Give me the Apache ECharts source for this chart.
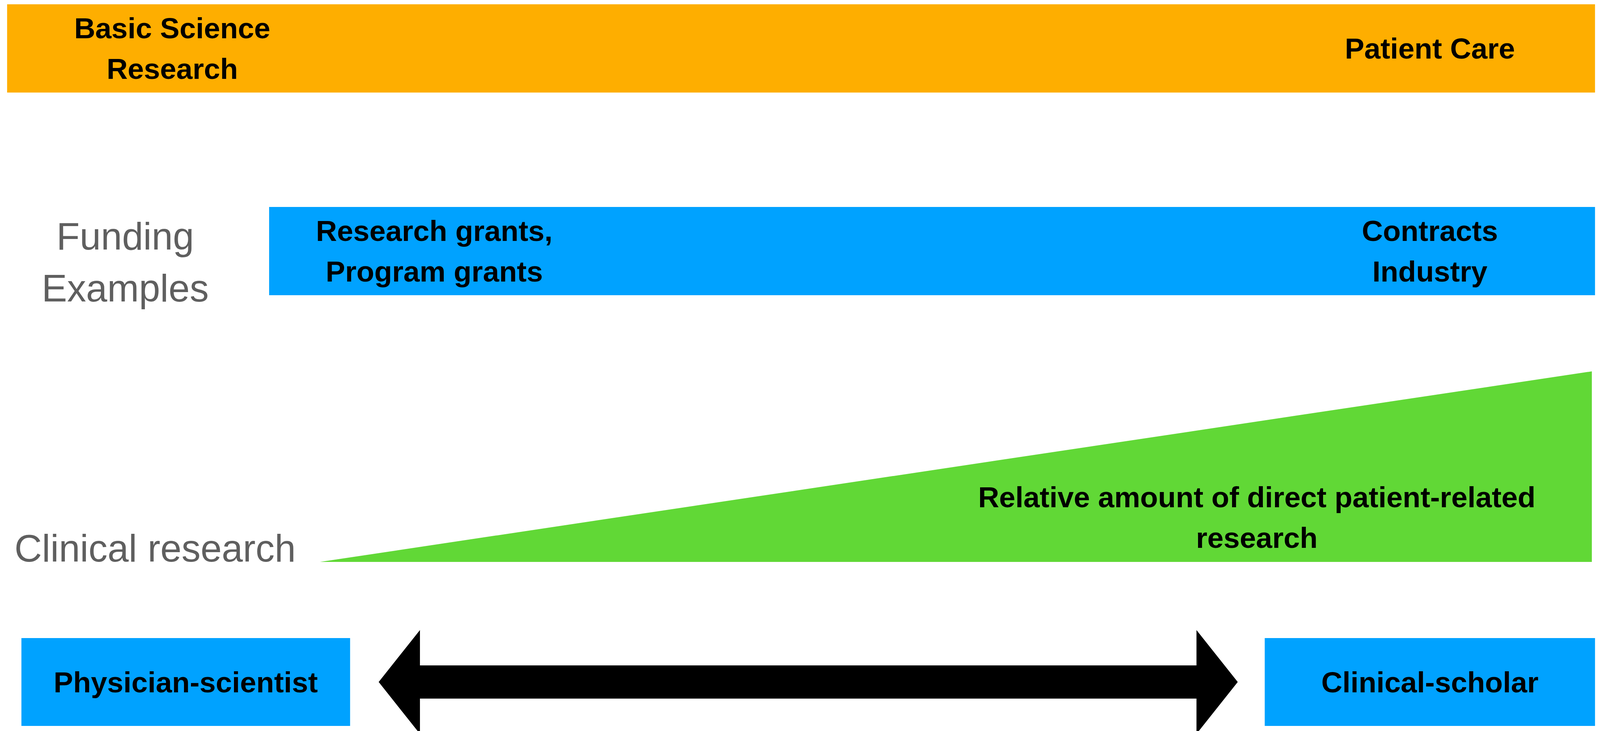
<!DOCTYPE html>
<html>
<head>
<meta charset="utf-8">
<script src="https://cdn.jsdelivr.net/npm/echarts@6/dist/echarts.min.js"></script>
<style>
html,body{margin:0;padding:0;background:#fff;width:100%;height:100%;overflow:hidden;}
#chart{width:100vw;height:100vh;}
</style>
</head>
<body>
<div id="chart"></div>
<script>
// ---- data (positions along the basic-science -> patient-care spectrum, 0..100) ----
const spectrumEnds = ['Basic Science\nResearch', 'Patient Care'];
const spectrumRange = [0, 100];
const fundingExamples = ['Research grants,\nProgram grants', 'Contracts\nIndustry'];
const fundingRange = [16.5, 100];
const clinicalShareX = [19.7, 99.8];
const clinicalShareY = [0, 1];
const clinicalNote = 'Relative amount of direct patient-related\nresearch';
const careerTypes = ['Physician-scientist', 'Clinical-scholar'];
const careerStart = [0.9, 79.2];
const careerEnd = [21.6, 100];
const continuumRange = [23.4, 77.5];
const rowTitles = ['Funding\nExamples', 'Clinical research'];

// ---- styling ----
const ORANGE = '#FEAE00', BLUE = '#00A2FF', GREEN = '#61D836', GRAY = '#5f5f5f';
const FONT = '"Liberation Sans", Arial, Helvetica, sans-serif';

const chart = echarts.init(document.getElementById('chart'), null, {renderer: 'svg'});
const W = chart.getWidth(), H = chart.getHeight();
const sx = W / 4498, sy = H / 1872, fs = Math.min(sx, sy);

const blackText = {fontFamily: FONT, fontSize: 82 * fs, fontWeight: 'bold', fill: '#000', lineHeight: 104 * sy, align: 'center', verticalAlign: 'middle'};
const grayText = {fontFamily: FONT, fontSize: 107 * fs, fill: GRAY, lineHeight: 133 * sy, align: 'center', verticalAlign: 'middle'};

function bandRenderer(color, labels, labelAt) {
  return function (params, api) {
    const p0 = api.coord([api.value(0), 1]);
    const p1 = api.coord([api.value(1), 0]);
    const children = [{
      type: 'rect',
      shape: {x: p0[0], y: p0[1], width: p1[0] - p0[0], height: p1[1] - p0[1]},
      style: {fill: color}
    }];
    labels.forEach(function (t, i) {
      const c = api.coord([labelAt[i], 0.5]);
      children.push({type: 'text', style: Object.assign({}, blackText, {text: t, x: c[0], y: c[1]})});
    });
    return {type: 'group', children: children};
  };
}

const rows = [[11, 226], [530, 226], [951, 488], [1634, 225]];
const grids = rows.map(r => ({left: 20 * sx, right: 14 * sx, top: r[0] * sy, height: r[1] * sy}));

const option = {
  animation: false,
  backgroundColor: '#fff',
  grid: grids,
  xAxis: grids.map((g, i) => ({type: 'value', gridIndex: i, min: 0, max: 100, show: false})),
  yAxis: grids.map((g, i) => ({type: 'value', gridIndex: i, min: 0, max: 1, show: false})),
  graphic: [
    {type: 'text', x: 352 * sx, y: 672 * sy, style: Object.assign({}, grayText, {text: rowTitles[0]})},
    {type: 'text', x: 436 * sx, y: 1404 * sy, style: Object.assign({}, grayText, {text: rowTitles[1]})}
  ],
  series: [
    {
      name: 'Spectrum', type: 'custom', xAxisIndex: 0, yAxisIndex: 0,
      data: [[spectrumRange[0], spectrumRange[1]]],
      renderItem: bandRenderer(ORANGE, spectrumEnds, [10.4, 89.6])
    },
    {
      name: 'Funding', type: 'custom', xAxisIndex: 1, yAxisIndex: 1,
      data: [[fundingRange[0], fundingRange[1]]],
      renderItem: bandRenderer(BLUE, fundingExamples, [26.9, 89.6])
    },
    {
      name: 'Clinical research', type: 'line', xAxisIndex: 2, yAxisIndex: 2,
      data: clinicalShareX.map((x, i) => [x, clinicalShareY[i]]),
      symbol: 'none', lineStyle: {width: 0, color: GREEN},
      areaStyle: {color: GREEN, opacity: 1},
      markPoint: {
        symbol: 'circle', symbolSize: 0,
        data: [{coord: [78.7, 0.234], value: 0}],
        label: {show: true, position: 'inside', formatter: clinicalNote,
          fontFamily: FONT, fontSize: 82 * fs, fontWeight: 'bold', color: '#000', lineHeight: 104 * sy, align: 'center', verticalAlign: 'middle'}
      }
    },
    {
      name: 'Careers', type: 'custom', xAxisIndex: 3, yAxisIndex: 3,
      data: careerTypes.map((t, i) => [careerStart[i], careerEnd[i], t]),
      renderItem: function (params, api) {
        const p0 = api.coord([api.value(0), 1]);
        const p1 = api.coord([api.value(1), 0]);
        const t = careerTypes[params.dataIndex];
        return {type: 'group', children: [
          {type: 'rect', shape: {x: p0[0], y: p0[1], width: p1[0] - p0[0], height: p1[1] - p0[1]}, style: {fill: BLUE}},
          {type: 'text', style: Object.assign({}, blackText, {text: t, x: (p0[0] + p1[0]) / 2, y: (p0[1] + p1[1]) / 2})}
        ]};
      }
    },
    {
      name: 'Continuum', type: 'custom', xAxisIndex: 3, yAxisIndex: 3,
      data: [[continuumRange[0], continuumRange[1]]],
      renderItem: function (params, api) {
        const a = api.coord([api.value(0), 0.5]);
        const b = api.coord([api.value(1), 0.5]);
        const x0 = a[0], x1 = b[0], yc = a[1];
        const head = 116 * sx, hh = 133 * sy, sh = 42.5 * sy;
        return {type: 'polygon', shape: {points: [
          [x0, yc], [x0 + head, yc - hh], [x0 + head, yc - sh], [x1 - head, yc - sh], [x1 - head, yc - hh],
          [x1, yc], [x1 - head, yc + hh], [x1 - head, yc + sh], [x0 + head, yc + sh], [x0 + head, yc + hh]
        ]}, style: {fill: '#000'}};
      }
    }
  ]
};
chart.setOption(option);
</script>
</body>
</html>
